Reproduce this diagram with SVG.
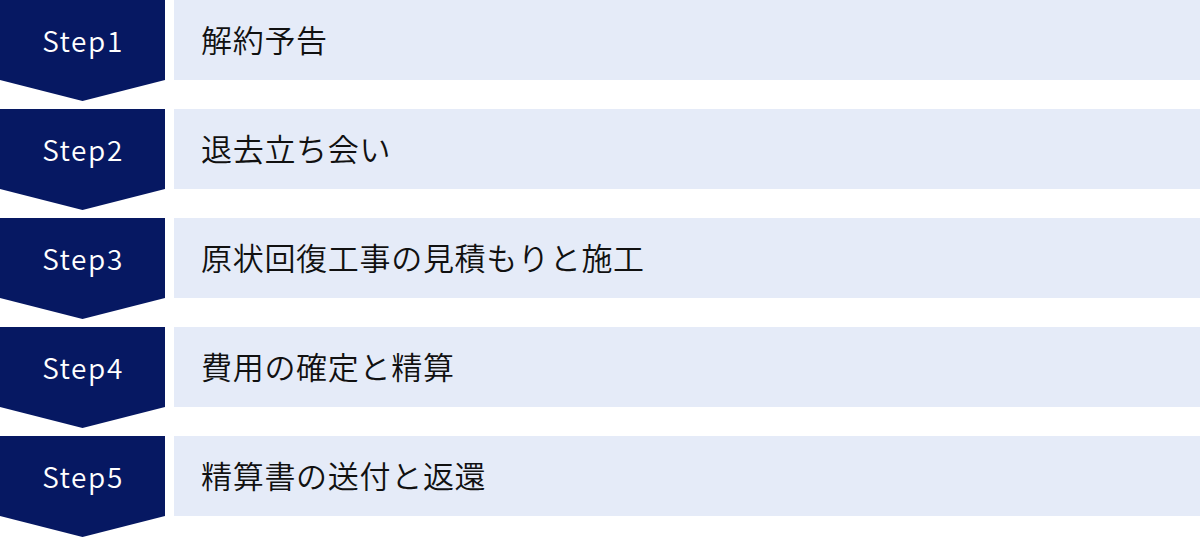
<svg xmlns="http://www.w3.org/2000/svg" width="1200" height="538" viewBox="0 0 1200 538">
<defs>
<style>
.chev{fill:#061862;}
.box{fill:#e5ebf8;}
.step{font-family:"Noto Sans CJK JP","Noto Sans",sans-serif;font-size:28px;font-weight:350;fill:#ffffff;letter-spacing:1.6px;text-anchor:middle;}
.label{font-family:"Noto Sans CJK JP","Noto Sans",sans-serif;font-size:31px;font-weight:350;fill:#111111;letter-spacing:0.7px;}
</style>
<path id="chevShape" d="M0 0 H165 V80 L82.5 101 L0 80 Z"/>
</defs>
<rect width="1200" height="538" fill="#ffffff"/>
<g id="connectors"></g>
<g id="step1" transform="translate(0,0)">
<use href="#chevShape" class="chev"/>
<rect class="box" x="174" y="0" width="1026" height="80"/>
<text class="step" x="83" y="52">Step1</text>
<text class="label" x="201" y="52">解約予告</text>
</g>
<g id="step2" transform="translate(0,109)">
<use href="#chevShape" class="chev"/>
<rect class="box" x="174" y="0" width="1026" height="80"/>
<text class="step" x="83" y="52">Step2</text>
<text class="label" x="201" y="52">退去立ち会い</text>
</g>
<g id="step3" transform="translate(0,218)">
<use href="#chevShape" class="chev"/>
<rect class="box" x="174" y="0" width="1026" height="80"/>
<text class="step" x="83" y="52">Step3</text>
<text class="label" x="201" y="52">原状回復工事の見積もりと施工</text>
</g>
<g id="step4" transform="translate(0,327)">
<use href="#chevShape" class="chev"/>
<rect class="box" x="174" y="0" width="1026" height="80"/>
<text class="step" x="83" y="52">Step4</text>
<text class="label" x="201" y="52">費用の確定と精算</text>
</g>
<g id="step5" transform="translate(0,436)">
<use href="#chevShape" class="chev"/>
<rect class="box" x="174" y="0" width="1026" height="80"/>
<text class="step" x="83" y="52">Step5</text>
<text class="label" x="201" y="52">精算書の送付と返還</text>
</g>
</svg>
